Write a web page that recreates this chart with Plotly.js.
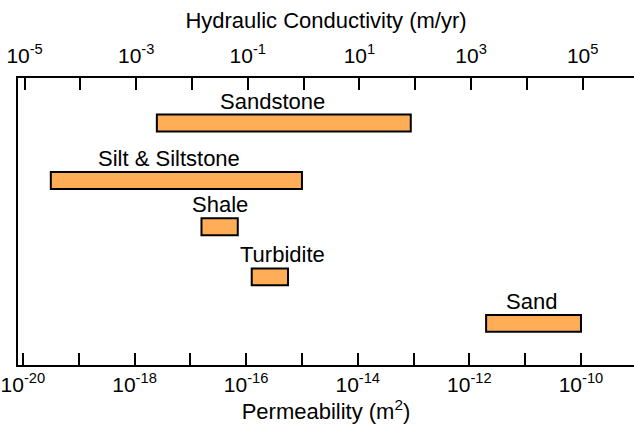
<!DOCTYPE html>
<html>
<head>
<meta charset="utf-8">
<script src="https://cdn.plot.ly/plotly-3.0.1.min.js"></script>
<style>html,body{margin:0;padding:0;background:#fff;}#chart{width:634px;height:429px;}</style>
</head>
<body>
<div id="chart"></div>
<script>
// ---- data ----
const materials = ['Sandstone', 'Silt & Siltstone', 'Shale', 'Turbidite', 'Sand'];
const permLowExp  = [-17.6, -19.5, -16.8, -15.9, -11.7];   // log10 permeability (m^2), low end
const permHighExp = [-13.05, -15.0, -16.15, -15.25, -10.0]; // log10 permeability (m^2), high end
const permTickExp = [-20, -19, -18, -17, -16, -15, -14, -13, -12, -11, -10];
const permLabelExp = [-20, -18, -16, -14, -12, -10];
const condTickExp = [-5, -4, -3, -2, -1, 0, 1, 2, 3, 4, 5];
const condLabelExp = [-5, -3, -1, 1, 3, 5];

// ---- layout helpers (positions / styles) ----
const rowY = [8.43, 6.43, 4.82, 3.07, 1.45];
const labelShiftX = [-11, -7, 0, 13, -2];
const permRange = [-20.088, -9.05];
const convOffset = 14.97; // log10 shift permeability -> hydraulic conductivity (as drawn)
const FONT = 'Arial, "Liberation Sans", Helvetica, sans-serif';

const lowVals = permLowExp.map(e => Math.pow(10, e));
const highVals = permHighExp.map(e => Math.pow(10, e));

const barTrace = {
  type: 'bar',
  orientation: 'h',
  y: rowY,
  base: lowVals,
  x: highVals.map((h, i) => h - lowVals[i]),
  width: 0.59,
  marker: { color: '#FFAE57', line: { color: '#000', width: 2 } },
  hoverinfo: 'skip',
  showlegend: false,
  xaxis: 'x', yaxis: 'y'
};

const supLabel = e => '10<sup>' + e + '</sup>';

const layout = {
  width: 634, height: 429,
  margin: { l: 18, r: 0, t: 78, b: 64 },
  paper_bgcolor: '#fff', plot_bgcolor: '#fff',
  font: { family: FONT, color: '#000' },
  showlegend: false,
  hovermode: false,
  xaxis: {
    type: 'log',
    range: permRange,
    showgrid: false, zeroline: false,
    showline: true, linecolor: '#000', linewidth: 2,
    ticks: 'inside', ticklen: 12, tickwidth: 2, tickcolor: '#000',
    tickmode: 'array',
    tickvals: permTickExp.map(e => Math.pow(10, e)),
    ticktext: permTickExp.map(e => permLabelExp.includes(e) ? supLabel(e) : ''),
    tickfont: { size: 21, family: FONT, color: '#000' },
    title: { text: 'Permeability (m<sup>2</sup>)', font: { size: 22, family: FONT, color: '#000' }, standoff: 4 },
    automargin: false,
    mirror: false
  },
  xaxis2: {
    type: 'log',
    overlaying: 'x',
    side: 'top',
    anchor: 'y',
    range: permRange.map(v => v + convOffset),
    showgrid: false, zeroline: false,
    showline: true, linecolor: '#000', linewidth: 2,
    ticks: 'inside', ticklen: 12, tickwidth: 2, tickcolor: '#000',
    tickmode: 'array',
    tickvals: condTickExp.map(e => Math.pow(10, e)),
    ticktext: condTickExp.map(e => condLabelExp.includes(e) ? supLabel(e) : ''),
    tickfont: { size: 21, family: FONT, color: '#000' },
    ticklabelstandoff: 5,
    title: { text: 'Hydraulic Conductivity (m/yr)', font: { size: 22, family: FONT, color: '#000' }, standoff: 6 },
    automargin: false
  },
  yaxis: {
    range: [0, 10],
    showgrid: false, zeroline: false,
    showline: true, linecolor: '#000', linewidth: 2,
    ticks: '', showticklabels: false,
    fixedrange: true
  },
  annotations: materials.map((m, i) => ({
    text: m,
    xref: 'x', yref: 'y',
    x: (permLowExp[i] + permHighExp[i]) / 2,
    y: rowY[i],
    xanchor: 'center', yanchor: 'middle',
    xshift: labelShiftX[i], yshift: 22,
    showarrow: false,
    font: { size: 22, family: FONT, color: '#000' }
  }))
};

// invisible trace so the top axis is instantiated (same bars, converted units)
const topTrace = {
  type: 'scatter', mode: 'markers',
  x: lowVals.map(v => v * Math.pow(10, convOffset)),
  y: rowY,
  marker: { opacity: 0 },
  hoverinfo: 'skip', showlegend: false,
  xaxis: 'x2', yaxis: 'y'
};

Plotly.newPlot('chart', [barTrace, topTrace], layout, { staticPlot: true, displayModeBar: false });
</script>
</body>
</html>
